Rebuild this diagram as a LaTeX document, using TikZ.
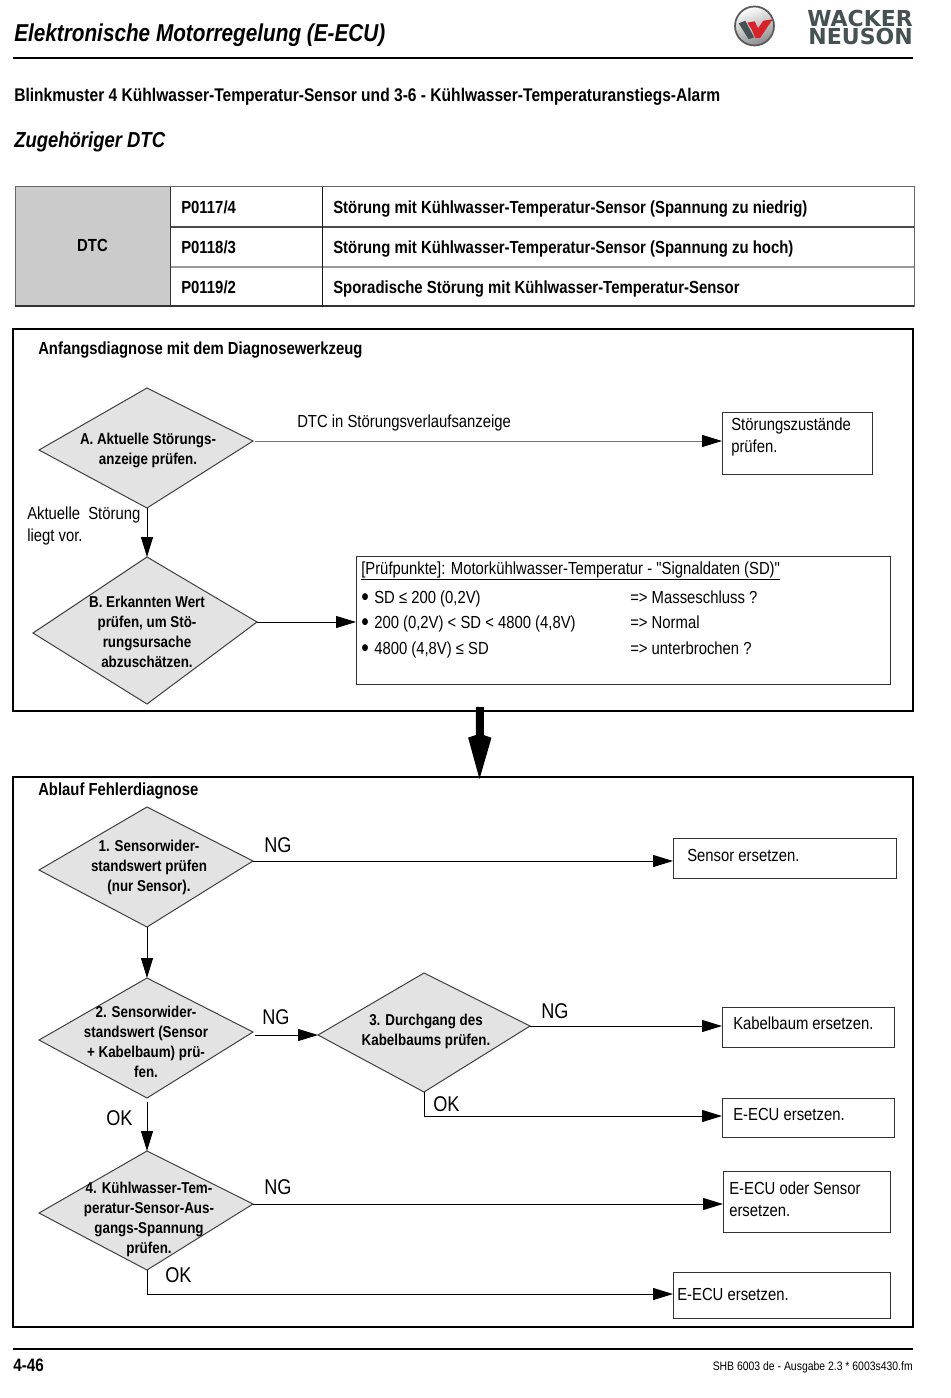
\documentclass[tikz,border=0pt]{standalone}
\usepackage{fontspec}
\setmainfont{Liberation Sans}[FakeStretch=0.85,Ligatures=TeXOff]
\newfontfamily\logofont{DejaVu Sans}
\usetikzlibrary{arrows.meta,calc}

\definecolor{diagrey}{HTML}{E3E3E3}
\definecolor{dtcgrey}{HTML}{CBCBCB}
\definecolor{logogrey}{HTML}{465154}
\definecolor{logored}{HTML}{D8222A}

\newcommand{\fs}[2]{\fontsize{#1}{#2}\selectfont}

\tikzset{
	x=0.75pt, y=-0.75pt,
	dia/.style={draw=black!75, fill=diagrey, line width=0.75pt},
	diatext/.style={inner sep=0, align=center, font=\bfseries\fs{11.8}{15}},
	box/.style={draw=black!80, line width=0.75pt, inner sep=0, outer sep=0, anchor=north west},
	frame/.style={box, draw=black, line width=1.5pt},
	lbl/.style={inner sep=0, anchor=west, align=left, font=\fs{13.1}{16.5}},
	head/.style={inner sep=0, anchor=west, font=\bfseries\fs{13.15}{16}},
	cond/.style={inner sep=0, anchor=west, font=\fs{16}{18}},
	arr/.style={line width=0.75pt, -{Triangle[length=15pt,width=9pt,black]}},
}

\begin{document}
\begin{tikzpicture}

	\useasboundingbox (0,0) rectangle (950,1398);

	% page head
	\node[inner sep=0, anchor=west, font=\bfseries\itshape\fs{18.3}{20}] (title) at (14,35) {Elektronische Motorregelung (E-ECU)};
	\node[head, font=\bfseries\fs{13.75}{16}] (sub) at (14,97) {Blinkmuster 4 Kühlwasser-Temperatur-Sensor und 3-6 - Kühlwasser-Temperaturanstiegs-Alarm};
	\node[inner sep=0, anchor=west, font=\bfseries\itshape\fs{16.3}{16}] (zug) at (14,142) {Zugehöriger DTC};
	\draw[line width=1.5pt] (13,58) -- (913,58);

	% logo
	\shade[top color=white, bottom color=black!45, shading angle=20, draw=black!65, line width=1.3pt] (754.5,26) circle (19.5);
	\fill[logogrey] (738.7,23.3) -- (745.3,20.7) -- (754,37.3) -- (748.7,39.3) -- cycle;
	\fill[logored] (747.3,22.7) -- (754.7,21.3) -- (758,28.3) -- (763.3,20.7) -- (772.7,19.3) -- (760,38) -- (755.3,38) -- (752,30) -- cycle;
	\node[inner sep=0, text=logogrey, align=right, font=\logofont\bfseries\fs{16.5}{13.5}, anchor=east] (logotext) at (913,27) {WACKER\\NEUSON};

	% table
	\node[box, fill=dtcgrey, draw=black!60, minimum width=155*0.75pt, minimum height=119*0.75pt] (dtc) at (15,187) {};
	\node[font=\bfseries\fs{13.15}{16}, inner sep=0] (dtctext) at (92.5,245) {DTC};
	\foreach \r/\y/\c/\t in {
		a/187/{P0117/4}/Störung mit Kühlwasser-Temperatur-Sensor (Spannung zu niedrig),
		b/227/{P0118/3}/Störung mit Kühlwasser-Temperatur-Sensor (Spannung zu hoch),
		c/267/{P0119/2}/Sporadische Störung mit Kühlwasser-Temperatur-Sensor} {
		\node[box, minimum width=152*0.75pt, minimum height=39.5*0.75pt, draw=black!60] (code-\r) at (170,\y) {};
		\node[box, minimum width=592*0.75pt, minimum height=39.5*0.75pt, draw=black!60] (row-\r) at (322,\y) {};
		\node[head] (codetext-\r) at (181,\y+20) {\c};
		\node[head] (rowtext-\r) at (333,\y+22) {\t};
	}
	\draw[line width=1.3pt, black!70] (code-b.north west) -- (row-b.north east);
	\draw[line width=1pt, black!40] (code-c.north west) -- (row-c.north east);
	\draw[line width=1pt, black!80] (dtc.south west) -- (dtc.south west -| row-c.east);
	\draw[line width=0.75pt, black!80] (code-a.north west) -- (code-c.south west);
	\draw[line width=0.75pt, black!90] (row-a.north west) -- (row-c.south west);

	% frames and result boxes
	\foreach \n/\x/\y/\w/\h in {
		anf/13/329/900/382, abl/13/777/900/550} {
		\node[frame, minimum width=\w*0.75pt, minimum height=\h*0.75pt] (\n) at (\x,\y) {};
	}
	\foreach \n/\x/\y/\w/\h in {
		zust/722/412/150/62, pruef/356/556/534/128, sens/673/838/223/40, kab/722/1007/172/40,
		ecua/722/1098/172/39, ecuo/723/1171/167/61, ecub/673/1272/217/46} {
		\node[box, minimum width=\w*0.75pt, minimum height=\h*0.75pt] (\n) at (\x,\y) {};
	}

	% diamonds, their corners are not quite level
	\foreach \d/\tx/\ty/\rx/\ry/\bx/\by/\lx/\ly in {
		a/147/388/253/441/147/508/39/450, b/147/557/257/622/147/704/33/633,
		s/147/807/253/861/147/927/39/870, k/147/978/253/1032/147/1098/39/1040,
		d/424/973/530/1026/424/1092/318/1035, t/147/1151/253/1204/147/1270/39/1213} {
		\coordinate (\d-t) at (\tx,\ty);
		\coordinate (\d-r) at (\rx,\ry);
		\coordinate (\d-b) at (\bx,\by);
		\coordinate (\d-l) at (\lx,\ly);
		\draw[dia] (\d-t) -- (\d-r) -- (\d-b) -- (\d-l) -- cycle;
	}

	\node[diatext] (a-text) at (148,450) {A. Aktuelle Störungs-\\anzeige prüfen.};
	\node[diatext] (b-text) at (147,632) {B. Erkannten Wert\\prüfen, um Stö-\\rungsursache\\abzuschätzen.};
	\node[diatext] (s-text) at (149,867) {1. Sensorwider-\\standswert prüfen\\(nur Sensor).};
	\node[diatext] (k-text) at (146,1042) {2. Sensorwider-\\standswert (Sensor\\+ Kabelbaum) prü-\\fen.};
	\node[diatext] (d-text) at (426,1031) {3. Durchgang des\\Kabelbaums prüfen.};
	\node[diatext] (t-text) at (149,1219) {4. Kühlwasser-Tem-\\peratur-Sensor-Aus-\\gangs-Spannung\\prüfen.};

	% headings in the frames
	\node[head, font=\bfseries\fs{13.1}{14}] (anftext) at (38,350) {Anfangsdiagnose mit dem Diagnosewerkzeug};
	\node[head, font=\bfseries\fs{13.1}{14}] (abltext) at (38,791) {Ablauf Fehlerdiagnose};

	% texts in the boxes
	\node[lbl] (zusttext) at (731,437) {Störungszustände\\prüfen.};
	\node[lbl] (senstext) at (687,855) {Sensor ersetzen.};
	\node[lbl] (kabtext) at (733,1023) {Kabelbaum ersetzen.};
	\node[lbl] (ecuatext) at (733,1114) {E-ECU ersetzen.};
	\node[lbl] (ecuotext) at (729,1199) {E-ECU oder Sensor\\ersetzen.};
	\node[lbl] (ecubtext) at (677,1294) {E-ECU ersetzen.};
	\node[lbl] (pruefhead) at (361,571) {\underline{[Prüfpunkte]: Motorkühlwasser-Temperatur - "Signaldaten (SD)"}};
	\foreach \i/\y/\s/\e in {
		1/597/{SD ≤ 200 (0,2V)}/{Masseschluss ?},
		2/622/{200 (0,2V) < SD < 4800 (4,8V)}/Normal,
		3/648/{4800 (4,8V) ≤ SD}/{unterbrochen ?}} {
		\node[lbl, font=\fs{19}{19}] (bul-\i) at (361,\y+3) {•};
		\node[lbl] (sd-\i) at (374,\y+2) {\s};
		\node[lbl] (res-\i) at (630,\y) {=> \e};
	}

	% labels on the connectors
	\node[lbl] (dtclbl) at (297,423) {DTC in Störungsverlaufsanzeige};
	\node[lbl] (akt) at (27,526) {Aktuelle\ \ Störung\\liegt vor.};
	\foreach \n/\x/\y/\t in {
		ng1/264/845/NG, ng2/262/1017/NG, ng3/541/1011/NG, ng4/264/1187/NG,
		ok3/433/1104/OK, ok2/106/1118/OK, ok4/165/1275/OK} {
		\node[cond] (\n) at (\x,\y) {\t};
	}

	% connectors
	\coordinate (a-out) at (255,441);
	\coordinate (k-out) at (255,1035);
	\coordinate (k-low) at (147,1102);
	\coordinate (d-down) at (424,1116);
	\coordinate (t-down) at (147,1294);
	\coordinate (flow-top) at (480,707);
	\coordinate (flow-tip) at (479.5,779);

	\draw[arr, black!55] (a-out) -- (a-out -| zust.west);
	\draw[arr] (a-b) -- (b-t);
	\draw[arr] (b-r) -- (b-r -| pruef.west);
	\draw[arr] (s-r) -- (s-r -| sens.west);
	\draw[arr] (s-b) -- (k-t);
	\draw[arr] (k-out) -- (d-l);
	\draw[arr] (d-r) -- (d-r -| kab.west);
	\draw[arr] (d-b) -- (d-down) -- (d-down -| ecua.west);
	\draw[arr] (k-low) -- (t-t);
	\draw[arr] (t-r) -- (t-r -| ecuo.west);
	\draw[arr] (t-b) -- (t-down) -- (t-down -| ecub.west);
	\draw[line width=6pt, -{Kite[length=34pt,width=17.5pt,inset=3pt]}] (flow-top) -- (flow-tip);

	% page foot
	\draw[line width=1.5pt] (13,1349) -- (913,1349);
	\node[inner sep=0, anchor=west, font=\bfseries\fs{13.5}{16}] (pagenr) at (13,1365) {4-46};
	\node[inner sep=0, anchor=east, font=\fs{9.2}{12}] (foot) at (913,1367) {SHB 6003 de - Ausgabe 2.3 * 6003s430.fm};

\end{tikzpicture}
\end{document}
